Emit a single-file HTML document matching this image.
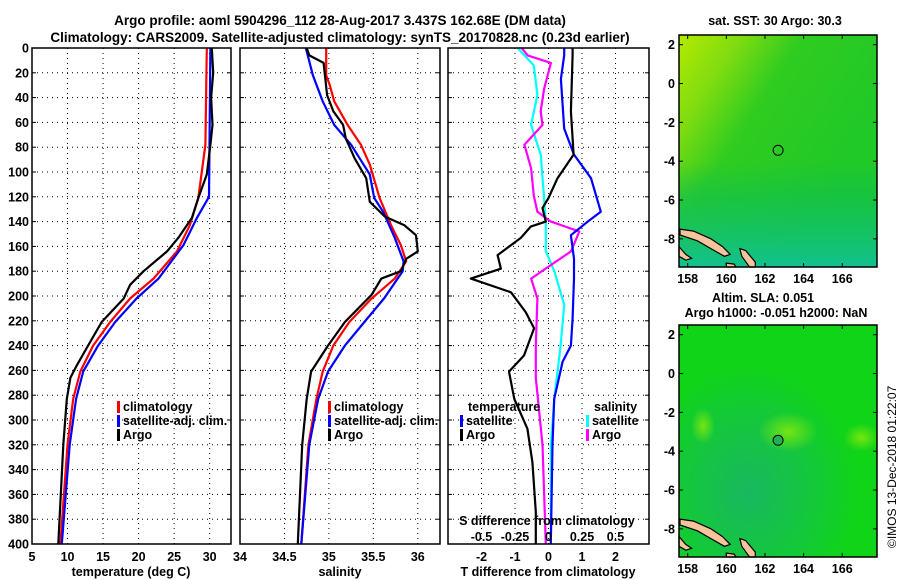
<!DOCTYPE html>
<html><head><meta charset="utf-8">
<style>
body{margin:0;background:#fff;}
svg{display:block;font-family:"Liberation Sans",sans-serif;font-weight:bold;}
</style></head>
<body>
<svg id="fig" width="900" height="580" viewBox="0 0 900 580" xmlns="http://www.w3.org/2000/svg">
<defs>
<linearGradient id="sstg" x1="0" y1="0" x2="0.8" y2="0.6">
<stop offset="0" stop-color="#b4ea00"/><stop offset="0.25" stop-color="#80dc10"/><stop offset="0.5" stop-color="#30cc20"/><stop offset="1" stop-color="#20c828"/></linearGradient>
<linearGradient id="sstv" x1="0" y1="0" x2="0" y2="1">
<stop offset="0" stop-color="#10c050" stop-opacity="0"/><stop offset="0.55" stop-color="#10c050" stop-opacity="0"/><stop offset="0.7" stop-color="#10c050" stop-opacity="0.6"/><stop offset="1" stop-color="#10c09a" stop-opacity="0.9"/></linearGradient>
<radialGradient id="slag" cx="0.35" cy="0.72" r="0.55">
<stop offset="0" stop-color="#18b860"/><stop offset="0.6" stop-color="#14c83a"/><stop offset="1" stop-color="#10d418"/></radialGradient>
<radialGradient id="blob" cx="0.5" cy="0.5" r="0.5">
<stop offset="0" stop-color="#80e810" stop-opacity="0.9"/><stop offset="1" stop-color="#80e810" stop-opacity="0"/></radialGradient>
</defs>
<g id="texts">
<text x="340" y="25" text-anchor="middle" font-size="13.5">Argo profile: aoml 5904296_112 28-Aug-2017 3.437S 162.68E (DM data)</text>
<text x="340" y="42" text-anchor="middle" font-size="13.5">Climatology: CARS2009. Satellite-adjusted climatology: synTS_20170828.nc (0.23d earlier)</text>
<text x="131" y="576" text-anchor="middle" font-size="12.5">temperature (deg C)</text>
<text x="340" y="576" text-anchor="middle" font-size="12.5">salinity</text>
<text x="548" y="576" text-anchor="middle" font-size="12.5">T difference from climatology</text>
<text x="547" y="525" text-anchor="middle" font-size="12.5">S difference from climatology</text>
<text x="775" y="25" text-anchor="middle" font-size="12.5">sat. SST: 30 Argo: 30.3</text>
<text x="763" y="302" text-anchor="middle" font-size="12.5">Altim. SLA: 0.051</text>
<text x="776" y="317" text-anchor="middle" font-size="12.5">Argo h1000: -0.051 h2000: NaN</text>
<text transform="translate(896,548) rotate(-90)" font-size="12" font-weight="normal">©IMOS 13-Dec-2018 01:22:07</text>
</g>
</svg>
<script>
const depthTicks=[0,20,40,60,80,100,120,140,160,180,200,220,240,260,280,300,320,340,360,380,400];
const tempTicks=[5,10,15,20,25,30];
const salTicks=[34,34.5,35,35.5,36];
const tdTicks=[-2,-1,0,1,2];
const sdTicks=[-0.5,-0.25,0,0.25,0.5];
const sdTickLabels=["-0.5","-0.25","0","0.25","0.5"];
// temperature panel
const tClimD=[0,78,121,143,164,186,202,221,240,261,283,320,400];
const tClimV=[29.6,29.4,28.4,27.2,25.4,22.1,18.8,16.0,13.6,11.8,10.8,10.0,9.0];
const tSatD=[0,120,137,159,186,202,221,240,261,283,320,400];
const tSatV=[30.1,29.9,28.2,26.3,22.8,19.7,16.7,14.3,12.2,11.2,10.3,9.2];
const tArgoD=[0,20,40,62,78,102,121,137,153,164,180,191,202,221,240,256,266,283,320,400];
const tArgoV=[30.3,30.5,30.2,30.4,30.1,29.6,28.4,27.5,25.6,24.0,20.7,18.8,17.9,14.8,12.9,11.3,10.4,9.9,9.4,8.7];
// salinity panel
const sClimD=[0,22,30,43,62,78,94,121,143,159,172,186,202,221,240,261,283,320,400];
const sClimV=[34.97,34.97,35.01,35.06,35.21,35.36,35.46,35.57,35.70,35.81,35.87,35.74,35.48,35.23,35.05,34.93,34.86,34.77,34.69];
const sSatD=[0,22,43,62,78,102,121,132,153,172,180,202,221,240,261,283,320,400];
const sSatV=[34.74,34.82,34.93,35.06,35.25,35.46,35.51,35.61,35.74,35.84,35.83,35.62,35.40,35.18,34.99,34.88,34.78,34.69];
const sArgoD=[0,6,12,38,51,62,73,89,105,124,136,143,151,164,170,180,186,199,221,240,261,283,320,400];
const sArgoV=[34.75,34.78,34.94,34.98,35.05,35.16,35.19,35.29,35.42,35.46,35.63,35.85,35.98,36.0,35.87,35.81,35.59,35.48,35.18,34.99,34.80,34.75,34.70,34.65];
// difference panel
const dTArgoD=[0,6,51,86,105,121,129,140,144,153,167,178,186,197,213,226,248,261,283,307,334,374,400];
const dTArgoV=[0.72,0.72,0.67,0.75,0.27,0.0,-0.18,-0.08,-0.53,-0.82,-1.52,-1.42,-2.32,-1.12,-0.68,-0.43,-0.73,-1.18,-1.02,-0.63,-0.48,-0.38,-0.38];
const dTSatD=[0,6,25,65,86,105,132,140,151,170,186,218,240,253,283,320,400];
const dTSatV=[0.47,0.47,0.37,0.47,0.76,1.27,1.56,1.17,0.67,0.76,0.76,0.72,0.67,0.42,0.17,0.12,0.07];
const dSSatD=[0,3,14,38,62,86,121,140,164,180,207,240,283,320,400];
const dSSatV=[-0.23,-0.205,-0.11,-0.083,-0.13,-0.058,-0.033,-0.02,-0.02,0.043,0.117,0.09,0.043,0.018,0.018];
const dSArgoD=[0,6,12,33,51,62,78,97,119,132,140,148,164,175,186,202,240,266,320,400];
const dSArgoV=[-0.2,-0.155,0.018,-0.033,-0.058,-0.045,-0.18,-0.13,-0.11,-0.083,0.018,0.23,0.168,0.018,-0.13,-0.083,-0.095,-0.095,-0.045,-0.02];
// maps
const lonTicks=[158,160,162,164,166];
const latTicks=[2,0,-2,-4,-6,-8];
const argoLon=162.68, argoLat=-3.437;

const NS="http://www.w3.org/2000/svg";
const svg=document.getElementById('fig');
function mk(tag,attrs,parent){const e=document.createElementNS(NS,tag);for(const k in attrs)e.setAttribute(k,attrs[k]);(parent||svg).appendChild(e);return e;}
const Y0=48,Y1=544;
function yD(d){return Y0+(Y1-Y0)*d/400;}
const panels=[
 {x0:32,x1:231,min:5,max:33,ticks:tempTicks,labels:tempTicks.map(String),name:'temperature-panel'},
 {x0:240,x1:440,min:34,max:36.25,ticks:salTicks,labels:salTicks.map(String),name:'salinity-panel'},
 {x0:448,x1:649,min:-3,max:3,ticks:tdTicks,labels:tdTicks.map(String),name:'difference-panel'}];
function xF(p,v){return p.x0+(p.x1-p.x0)*(v-p.min)/(p.max-p.min);}
panels.forEach((p,i)=>{
 const g=mk('g',{});
 
 
 mk('rect',{x:p.x0,y:Y0,width:p.x1-p.x0,height:Y1-Y0,fill:'#fff'},g);
 depthTicks.forEach(d=>{
  if(d>0&&d<400){const l=mk('line',{x1:p.x0,x2:p.x1,y1:yD(d),y2:yD(d),stroke:'#000','stroke-width':1,'stroke-dasharray':'1,4'},g);
  }
  mk('line',{x1:p.x0,x2:p.x0+4,y1:yD(d),y2:yD(d),stroke:'#000'},g);
  mk('line',{x1:p.x1-4,x2:p.x1,y1:yD(d),y2:yD(d),stroke:'#000'},g);
 });
 p.ticks.forEach((t,j)=>{
  const x=xF(p,t);
  if(x>p.x0+1){const l=mk('line',{x1:x,x2:x,y1:Y0,y2:Y1,stroke:'#000','stroke-dasharray':'1,4'},g);
  }
  const tx=mk('text',{x:x,y:561,'text-anchor':'middle','font-size':12.5},g);tx.textContent=p.labels[j];
  
 });
});
depthTicks.forEach(d=>{const t=mk('text',{x:29,y:yD(d)+4.5,'text-anchor':'end','font-size':12.5});t.textContent=String(d);
 });
const p3=panels[2];
function line(p,D,V,color,name,scale){
 const pts=D.map((d,i)=>xF(p,V[i]*(scale||1)).toFixed(1)+','+yD(d).toFixed(1)).join(' ');
 const pl=mk('polyline',{points:pts,fill:'none',stroke:color,'stroke-width':2.2,'stroke-linejoin':'round'});
 
}
line(panels[0],tClimD,tClimV,'#f00','temp-climatology-line');
line(panels[0],tSatD,tSatV,'#00f','temp-satellite-line');
line(panels[0],tArgoD,tArgoV,'#000','temp-argo-line');
line(panels[1],sClimD,sClimV,'#f00','sal-climatology-line');
line(panels[1],sSatD,sSatV,'#00f','sal-satellite-line');
line(panels[1],sArgoD,sArgoV,'#000','sal-argo-line');
line(p3,dSSatD,dSSatV,'#0ff','s-diff-satellite-line',4);
line(p3,dSArgoD,dSArgoV,'#f0f','s-diff-argo-line',4);
line(p3,dTSatD,dTSatV,'#00f','t-diff-satellite-line');
line(p3,dTArgoD,dTArgoV,'#000','t-diff-argo-line');
panels.forEach(p=>mk('rect',{x:p.x0,y:Y0,width:p.x1-p.x0,height:Y1-Y0,fill:'none',stroke:'#000','stroke-width':1.5}));
sdTicks.forEach((s,j)=>{const t=mk('text',{x:xF(p3,s*4),y:541,'text-anchor':'middle','font-size':12.5});t.textContent=sdTickLabels[j];
 });
function leg(x,y,color,label,name){
 const g=mk('g',{});
 mk('rect',{x:x,y:y-10,width:3,height:12,fill:color},g);
 if(label){const t=mk('text',{x:x+6,y:y,'font-size':12.5},g);t.textContent=label;}
}
leg(117,411,'#f00','climatology','legend-climatology');
leg(117,425,'#00f','satellite-adj. clim.','legend-satellite-adj');
leg(117,439,'#000','Argo','legend-argo');
leg(328,411,'#f00','climatology','legend-sal-climatology');
leg(328,425,'#00f','satellite-adj. clim.','legend-sal-satellite-adj');
leg(328,439,'#000','Argo','legend-sal-argo');
{const t=mk('text',{x:468,y:411,'font-size':12.5});t.textContent='temperature';}
{const t=mk('text',{x:594,y:411,'font-size':12.5});t.textContent='salinity';}
leg(460,425,'#00f','satellite','legend-t-satellite');
leg(460,439,'#000','Argo','legend-t-argo');
leg(586,425,'#0ff','satellite','legend-s-satellite');
leg(586,439,'#f0f','Argo','legend-s-argo');
// maps
const MX0=679,MX1=877,LON0=157.55,LON1=167.8,LAT0=2.5,LAT1=-9.45;
function mapX(l){return MX0+(MX1-MX0)*(l-LON0)/(LON1-LON0);}
function drawMap(my0,my1,fill,overlay,name,circFill,blobs){
 const g=mk('g',{});
 const mapY=l=>my0+(my1-my0)*(l-LAT0)/(LAT1-LAT0);
 mk('rect',{x:MX0,y:my0,width:MX1-MX0,height:my1-my0,fill:fill},g);
 if(overlay)mk('rect',{x:MX0,y:my0,width:MX1-MX0,height:my1-my0,fill:overlay},g);
 if(blobs)blobs.forEach(b=>mk('ellipse',{cx:mapX(b[0]),cy:mapY(b[1]),rx:b[2],ry:b[3],fill:'url(#blob)'},g));
 const land=[[[157.6,-7.5],[158.3,-7.6],[159.2,-8.0],[159.8,-8.4],[160.2,-8.8],[159.9,-8.9],[159.2,-8.5],[158.5,-8.1],[157.6,-7.8]],
  [[160.7,-8.5],[161.0,-8.6],[161.5,-9.2],[161.5,-9.45],[161.2,-9.45],[160.8,-8.9]],
  [[157.55,-8.4],[157.9,-8.8],[158.2,-9.0],[157.9,-9.1],[157.55,-8.9]],
  [[160.0,-9.25],[160.4,-9.3],[160.5,-9.45],[160.0,-9.45]]];
 land.forEach(poly=>{const pl=mk('polygon',{points:poly.map(q=>mapX(q[0]).toFixed(1)+','+mapY(q[1]).toFixed(1)).join(' '),fill:'#f5c49a',stroke:'#000','stroke-width':1.2},g);
  });
 const c=mk('circle',{cx:mapX(argoLon),cy:mapY(argoLat),r:5,fill:circFill,stroke:'#000','stroke-width':1},g);
 
 mk('rect',{x:MX0,y:my0,width:MX1-MX0,height:my1-my0,fill:'none',stroke:'#000','stroke-width':1.5},g);
 latTicks.forEach(l=>{const y=mapY(l);
  mk('line',{x1:MX0,x2:MX0+4,y1:y,y2:y,stroke:'#000'},g);mk('line',{x1:MX1-4,x2:MX1,y1:y,y2:y,stroke:'#000'},g);
  const t=mk('text',{x:675,y:y+4.5,'text-anchor':'end','font-size':12.5},g);t.textContent=String(l);
  });
 lonTicks.forEach(l=>{const x=mapX(l);
  mk('line',{x1:x,x2:x,y1:my0,y2:my0+4,stroke:'#000'},g);mk('line',{x1:x,x2:x,y1:my1-4,y2:my1,stroke:'#000'},g);
  const t=mk('text',{x:x,y:my1+16,'text-anchor':'middle','font-size':12.5},g);t.textContent=String(l);
  });
}
drawMap(35,267,'url(#sstg)','url(#sstv)','sst-map','none',null);
drawMap(325,557,'url(#slag)',null,'sla-map','#22b050',[[163.2,-3,30,20],[158.8,-2.7,12,18],[167,-3.3,18,14]]);
svg.appendChild(document.getElementById('texts'));
</script>
</body></html>
